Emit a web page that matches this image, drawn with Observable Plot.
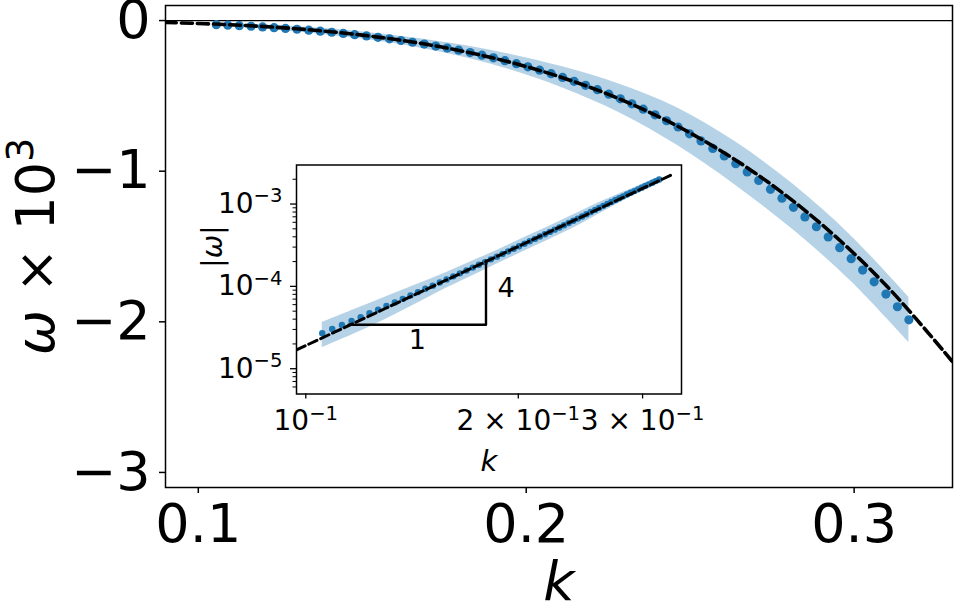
<!DOCTYPE html>
<html>
<head>
<meta charset="utf-8">
<script src="https://cdn.jsdelivr.net/npm/d3@7"></script>
<script src="https://cdn.jsdelivr.net/npm/@observablehq/plot@0.6"></script>
<style>
  body { margin: 0; background: #fff; }
  #chart { position: relative; width: 957px; height: 605px; font-family: "DejaVu Sans", sans-serif; }
  #chart svg { position: absolute; }
</style>
</head>
<body>
<div id="chart"></div>
<script>
const BLUE = "#1f77b4";

// wavenumbers of the measured modes
const kValues = [
  0.1055, 0.1090, 0.1125, 0.1161, 0.1196, 0.1231, 0.1266, 0.1301, 0.1337, 0.1372,
  0.1407, 0.1442, 0.1477, 0.1513, 0.1548, 0.1583, 0.1618, 0.1653, 0.1689, 0.1724,
  0.1759, 0.1794, 0.1829, 0.1865, 0.1900, 0.1935, 0.1970, 0.2005, 0.2041, 0.2076,
  0.2111, 0.2146, 0.2181, 0.2217, 0.2252, 0.2287, 0.2322, 0.2357, 0.2393, 0.2428,
  0.2463, 0.2498, 0.2533, 0.2569, 0.2604, 0.2639, 0.2674, 0.2709, 0.2745, 0.2780,
  0.2815, 0.2850, 0.2885, 0.2921, 0.2956, 0.2991, 0.3026, 0.3061, 0.3097, 0.3132,
  0.3167
];
// measured growth rate omega, in units of 1e-3
const omegaValues = [
  -0.0270, -0.0304, -0.0340, -0.0379, -0.0423, -0.0471, -0.0522, -0.0577, -0.0638, -0.0705,
  -0.0776, -0.0852, -0.0934, -0.1021, -0.1113, -0.1215, -0.1323, -0.1439, -0.1561, -0.1691,
  -0.1829, -0.1969, -0.2128, -0.2297, -0.2475, -0.2664, -0.2863, -0.3073, -0.3294, -0.3528,
  -0.3773, -0.4031, -0.4302, -0.4587, -0.4885, -0.5198, -0.5525, -0.5883, -0.6259, -0.6653,
  -0.7066, -0.7517, -0.7991, -0.8488, -0.8986, -0.9506, -1.0049, -1.0616, -1.1207, -1.1793,
  -1.2402, -1.3034, -1.3690, -1.4370, -1.5076, -1.5806, -1.6564, -1.7348, -1.8160, -1.9000,
  -1.9868
];

// spread of omega across realisations (units of 1e-3)
const bandK    = [0.1055, 0.1231, 0.1407, 0.1583, 0.1759, 0.1935, 0.2111, 0.2287, 0.2463, 0.2639, 0.2815, 0.2991, 0.3167];
const bandLow  = [-0.0365, -0.0621, -0.0986, -0.1475, -0.2189, -0.3164, -0.4473, -0.6148, -0.8316, -1.0946, -1.3912, -1.7316, -2.1358];
const bandHigh = [-0.0180, -0.0321, -0.0566, -0.0955, -0.1469, -0.2164, -0.3073, -0.4248, -0.5816, -0.8066, -1.0892, -1.4296, -1.8378];

// k^4 prediction (units of 1e-3)
const fitK     = [0.09, 0.11, 0.13, 0.15, 0.17, 0.19, 0.21, 0.23, 0.25, 0.27, 0.29, 0.31, 0.33];
const fitOmega = [-0.0125, -0.0280, -0.0546, -0.0967, -0.1595, -0.2489, -0.3715, -0.5345, -0.7461, -1.0151, -1.3509, -1.7639, -2.2651];

// main axes ticks
const mainXTicks  = [0.1, 0.2, 0.3];
const mainXLabels = ["0.1", "0.2", "0.3"];
const mainYTicks  = [0, -1, -2, -3];
const mainYLabels = ["0", "−1", "−2", "−3"];

// inset (log–log) ticks
const insetXTicks  = [0.1, 0.2, 0.3];
const insetXLabels = ["10^−1", "2 × 10^−1", "3 × 10^−1"];
const insetYTicks  = [1e-5, 1e-4, 1e-3];
const insetYLabels = ["10^−5", "10^−4", "10^−3"];
const insetYMinor  = [6e-6, 7e-6, 8e-6, 9e-6,
  2e-5, 3e-5, 4e-5, 5e-5, 6e-5, 7e-5, 8e-5, 9e-5,
  2e-4, 3e-4, 4e-4, 5e-4, 6e-4, 7e-4, 8e-4, 9e-4, 2e-3];

// slope-4 guide triangle
const slopeK = [0.115, 0.180, 0.180];
const slopeW = [3.42e-5, 3.42e-5, 2.05e-4];
const slopeRunLabel  = {k: 0.1439, w: 3.42e-5, text: "1"};
const slopeRiseLabel = {k: 0.180, w: 8.37e-5, text: "4"};

const points = kValues.map((k, i) => ({k, w: omegaValues[i]}));
const band = bandK.map((k, i) => ({k, lo: bandLow[i], hi: bandHigh[i]}));
const fit = fitK.map((k, i) => ({k, w: fitOmega[i]}));

const pointsAbs = points.map(d => ({k: d.k, w: -d.w * 1e-3}));
const bandAbs = band.map(d => ({k: d.k, lo: -d.lo * 1e-3, hi: -d.hi * 1e-3}));
const fitAbs = fit.map(d => ({k: d.k, w: -d.w * 1e-3}));
const slope = slopeK.map((k, i) => ({k, w: slopeW[i]}));

const lookup = (ticks, labels) => {
  const m = new Map(ticks.map((t, i) => [t, labels[i]]));
  return d => m.get(d) ?? "";
};

// Turn "*x*" into italic and "^x" into a superscript
function richText(svg) {
  d3.select(svg).selectAll("text").each(function () {
    const s = this.textContent;
    if (!/[\^*]/.test(s)) return;
    const el = d3.select(this).text(null);
    const re = /\*([^*]+)\*|\^(\S+)|([^*^]+)/g;
    let m;
    while ((m = re.exec(s))) {
      if (m[1]) el.append("tspan").attr("font-style", "italic").text(m[1]);
      else if (m[2]) el.append("tspan").attr("dy", "-0.54em").attr("font-size", "70%").text(m[2]);
      else el.append("tspan").text(m[3]);
    }
  });
}

const main = Plot.plot({
  width: 957,
  height: 605,
  marginLeft: 165,
  marginRight: 5,
  marginTop: 5,
  marginBottom: 118,
  x: {domain: [0.09, 0.33]},
  y: {domain: [-3.1, 0.1]},
  style: {fontFamily: "DejaVu Sans", fontSize: "54px", background: "transparent", overflow: "visible", color: "black"},
  marks: [
    Plot.areaY(band, {x: "k", y1: "lo", y2: "hi", fill: BLUE, fillOpacity: 0.33, curve: "catmull-rom"}),
    Plot.ruleY([0], {stroke: "black", strokeWidth: 1.2}),
    Plot.dot(points, {x: "k", y: "w", r: 4.6, fill: BLUE}),
    Plot.line(fit, {x: "k", y: "w", stroke: "black", strokeWidth: 3.6, strokeDasharray: "11,5", curve: "catmull-rom", clip: true}),
    Plot.frame({stroke: "black", strokeWidth: 1.5}),
    Plot.axisX({ticks: mainXTicks, tickFormat: lookup(mainXTicks, mainXLabels), tickSize: 6, tickPadding: 10, strokeWidth: 1.5, label: null, fontSize: 54}),
    Plot.axisY({ticks: mainYTicks, tickFormat: lookup(mainYTicks, mainYLabels), tickSize: 6, tickPadding: 9, strokeWidth: 1.5, label: null, fontSize: 54}),
    Plot.text(["k"], {frameAnchor: "bottom", dy: 112, lineAnchor: "bottom", fontSize: 54, fontStyle: "italic"}),
    Plot.text(["*ω* × 10^3"], {frameAnchor: "left", dx: -112, rotate: -90, lineAnchor: "bottom", textAnchor: "middle", fontSize: 54})
  ]
});
main.style.left = "0px";
main.style.top = "0px";

const inset = Plot.plot({
  width: 500,
  height: 320,
  marginLeft: 100,
  marginRight: 15,
  marginTop: 14.5,
  marginBottom: 76.5,
  x: {type: "log", domain: [0.09701, 0.3406]},
  y: {type: "log", domain: [4.93e-6, 2.98e-3]},
  style: {fontFamily: "DejaVu Sans", fontSize: "28px", background: "transparent", overflow: "visible", color: "black"},
  marks: [
    Plot.frame({fill: "white", stroke: "none"}),
    Plot.areaY(bandAbs, {x: "k", y1: "lo", y2: "hi", fill: BLUE, fillOpacity: 0.33, curve: "catmull-rom"}),
    Plot.dot(pointsAbs, {x: "k", y: "w", r: 3.2, fill: BLUE}),
    Plot.line(fitAbs, {x: "k", y: "w", stroke: "black", strokeWidth: 3, strokeDasharray: "9,4", curve: "catmull-rom", clip: true}),
    Plot.line(slope, {x: "k", y: "w", stroke: "black", strokeWidth: 2.4}),
    Plot.text([slopeRunLabel], {x: "k", y: "w", text: "text", dy: 16, fontSize: 27}),
    Plot.text([slopeRiseLabel], {x: "k", y: "w", text: "text", dx: 20, dy: -4, fontSize: 27}),
    Plot.frame({stroke: "black", strokeWidth: 1.5}),
    Plot.axisX({ticks: insetXTicks, tickFormat: lookup(insetXTicks, insetXLabels), tickSize: 5, tickPadding: 11.5, strokeWidth: 1.3, label: null, fontSize: 28}),
    Plot.axisY({ticks: insetYTicks, tickFormat: lookup(insetYTicks, insetYLabels), tickSize: 6, tickPadding: 8, strokeWidth: 1.3, label: null, fontSize: 28}),
    Plot.axisY({ticks: insetYMinor, tickFormat: () => "", tickSize: 3.5, strokeWidth: 1, label: null}),
    Plot.text(["k"], {frameAnchor: "bottom", dy: 76.5, lineAnchor: "bottom", fontSize: 29, fontStyle: "italic"}),
    Plot.text(["|*ω*|"], {frameAnchor: "left", dx: -75, dy: -33, rotate: -90, lineAnchor: "bottom", textAnchor: "middle", fontSize: 28})
  ]
});
inset.style.left = "196px";
inset.style.top = "150px";

const chart = document.getElementById("chart");
chart.appendChild(main);
chart.appendChild(inset);
richText(main);
richText(inset);
</script>
</body>
</html>
